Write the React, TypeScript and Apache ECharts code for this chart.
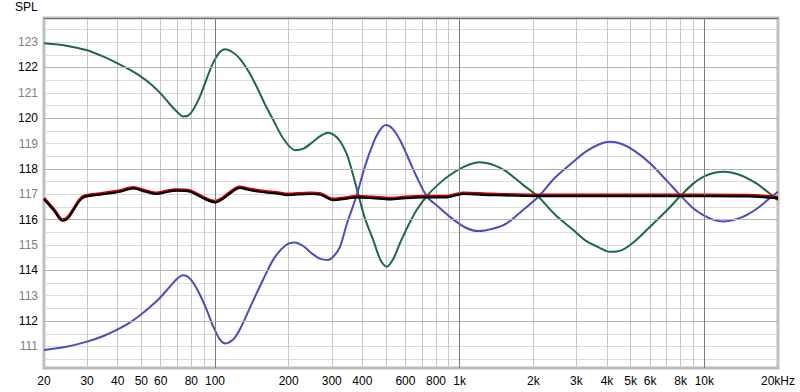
import React, { useEffect, useRef } from 'react';
import * as echarts from 'echarts';

// Frequency axis grid / labels
const xGridValues = [
  20, 30, 40, 50, 60, 70, 80, 90,
  100, 200, 300, 400, 500, 600, 700, 800, 900,
  1000, 2000, 3000, 4000, 5000, 6000, 7000, 8000, 9000,
  10000, 20000,
];
const xLabelValues = [20, 30, 40, 50, 60, 80, 100, 200, 300, 400, 600, 800, 1000, 2000, 3000, 4000, 5000, 6000, 8000, 10000, 20000];
const decadeLines = [100, 1000, 10000];

// SPL axis grid / labels
const yHalfLines = [110.5, 111, 111.5, 112, 112.5, 113, 113.5, 114, 114.5, 115, 115.5, 116, 116.5, 117, 117.5, 118, 118.5, 119, 119.5, 120, 120.5, 121, 121.5, 122, 122.5, 123, 123.5];
const yLabelValues = [111, 112, 113, 114, 115, 116, 117, 118, 119, 120, 121, 122, 123];
const yEvenLines = [112, 114, 116, 118, 120, 122];

// Green curve
const greenFreq = [20, 25, 30, 35, 40, 45, 50, 55, 60, 65, 70, 74, 78, 82, 87, 93, 98, 104, 110, 118, 126, 137, 148, 160, 173, 190, 212, 230, 250, 270, 289, 305, 324, 345, 362, 385, 410, 443, 475, 503, 535, 570, 615, 667, 737, 820, 913, 1050, 1210, 1380, 1556, 1800, 2096, 2450, 2913, 3300, 3747, 4100, 4600, 5200, 5996, 7000, 8004, 9000, 9902, 11000, 12000, 13000, 14000, 15000, 16500, 18000, 20000];
const greenSpl = [122.95, 122.85, 122.68, 122.43, 122.16, 121.9, 121.63, 121.32, 120.97, 120.58, 120.25, 120.07, 120.11, 120.38, 120.88, 121.62, 122.16, 122.58, 122.72, 122.6, 122.36, 121.85, 121.24, 120.55, 119.93, 119.2, 118.74, 118.8, 119.05, 119.3, 119.43, 119.35, 119.1, 118.6, 117.96, 117.0, 116.05, 115.2, 114.4, 114.14, 114.45, 115.07, 115.75, 116.38, 116.95, 117.4, 117.76, 118.1, 118.26, 118.15, 117.89, 117.4, 116.9, 116.2, 115.59, 115.15, 114.88, 114.73, 114.8, 115.15, 115.72, 116.35, 116.94, 117.42, 117.69, 117.85, 117.89, 117.85, 117.76, 117.63, 117.4, 117.12, 116.77];

// Blue curve
const blueFreq = [20, 25, 30, 35, 40, 45, 50, 55, 60, 65, 70, 74, 78, 82, 87, 93, 98, 104, 110, 118, 126, 140, 157, 175, 195, 212, 230, 250, 270, 289, 305, 324, 345, 379, 410, 443, 470, 499, 530, 570, 615, 667, 737, 820, 913, 1050, 1191, 1380, 1556, 1800, 2096, 2450, 2913, 3300, 3747, 4100, 4600, 5200, 5996, 7000, 8004, 9000, 9902, 11000, 12000, 13000, 14000, 15000, 16500, 18000, 20000];
const blueSpl = [110.86, 111.0, 111.19, 111.41, 111.67, 111.95, 112.27, 112.6, 112.95, 113.33, 113.67, 113.81, 113.73, 113.47, 113.02, 112.38, 111.82, 111.32, 111.12, 111.25, 111.65, 112.6, 113.62, 114.5, 115.0, 115.1, 114.95, 114.65, 114.45, 114.41, 114.55, 114.93, 115.8, 116.95, 118.1, 119.01, 119.5, 119.73, 119.6, 119.14, 118.45, 117.69, 116.9, 116.5, 116.11, 115.7, 115.55, 115.65, 115.85, 116.35, 116.9, 117.65, 118.28, 118.7, 118.98, 119.07, 118.98, 118.7, 118.22, 117.55, 116.94, 116.45, 116.18, 115.98, 115.93, 115.97, 116.07, 116.2, 116.45, 116.75, 117.1];

// Black curve
const blackFreq = [20, 22, 23.8, 25, 26.4, 28, 29.4, 32.8, 36, 40.9, 46.3, 52, 57.8, 63, 69.7, 79, 87.2, 94, 100.3, 107, 115, 126, 138, 152.7, 184, 196, 244, 270, 304, 340, 379, 440, 519, 600, 706, 885, 960, 1035, 1330, 2121, 3747, 6000, 10000, 15000, 20000];
const blackSpl = [116.8, 116.35, 115.96, 116.05, 116.38, 116.75, 116.9, 116.97, 117.02, 117.1, 117.23, 117.1, 117.01, 117.08, 117.14, 117.1, 116.9, 116.75, 116.68, 116.8, 117.03, 117.25, 117.17, 117.1, 117.01, 116.97, 117.01, 116.98, 116.77, 116.82, 116.88, 116.85, 116.8, 116.85, 116.88, 116.88, 116.95, 117.01, 116.97, 116.93, 116.93, 116.93, 116.93, 116.92, 116.84];

// Red curve (just under the black one)
const redFreq = [20, 22, 23.8, 25, 26.4, 28, 29.4, 32.8, 36, 40.9, 46.3, 52, 57.8, 63, 69.7, 79, 87.2, 94, 100.3, 107, 115, 126, 138, 152.7, 184, 196, 244, 270, 304, 340, 379, 440, 519, 600, 706, 885, 960, 1035, 1330, 2121, 3747, 6000, 10000, 15000, 20000];
const redSpl = [116.84, 116.39, 116.0, 116.09, 116.42, 116.79, 116.94, 117.01, 117.06, 117.14, 117.27, 117.14, 117.05, 117.12, 117.18, 117.14, 116.94, 116.79, 116.72, 116.84, 117.07, 117.29, 117.21, 117.14, 117.05, 117.01, 117.05, 117.02, 116.81, 116.86, 116.92, 116.89, 116.84, 116.89, 116.92, 116.92, 116.99, 117.05, 117.01, 116.97, 116.97, 116.97, 116.97, 116.96, 116.88];

const pairs = (xs: number[], ys: number[]) => xs.map((x, i) => [x, ys[i]]);

const fmtFreq = (v: number) => {
  if (v >= 20000) return '20kHz';
  if (v >= 1000) return `${Math.round(v / 1000)}k`;
  return `${Math.round(v)}`;
};

export default function App() {
  const ref = useRef<HTMLDivElement>(null);
  useEffect(() => {
    if (!ref.current) return;
    const chart = echarts.init(ref.current, null, { renderer: 'svg' });
    const font = 'Arial, "Liberation Sans", sans-serif';
    chart.setOption({
      animation: false,
      backgroundColor: '#ffffff',
      title: {
        text: 'SPL',
        left: 15,
        top: 1,
        padding: 0,
        textStyle: { fontSize: 12, fontWeight: 'normal', color: '#000', fontFamily: font },
      },
      grid: {
        left: 44,
        top: 18,
        right: 22,
        bottom: 24,
        show: true,
        borderColor: '#bcbcbc',
        borderWidth: 3,
        backgroundColor: '#ffffff',
      },
      xAxis: {
        type: 'log',
        logBase: 10,
        min: 20,
        max: 20000,
        axisLine: { show: false },
        axisTick: { show: false, customValues: xGridValues },
        splitLine: { show: true, lineStyle: { color: '#c6c6c6', width: 1 } },
        minorSplitLine: { show: false },
        axisLabel: {
          customValues: xLabelValues,
          formatter: (v: number) => fmtFreq(v),
          color: '#000',
          fontSize: 12,
          fontFamily: font,
          margin: 7,
          showMinLabel: true,
          showMaxLabel: true,
          hideOverlap: false,
        },
      },
      yAxis: {
        type: 'value',
        min: 110.15,
        max: 123.95,
        axisLine: { show: false },
        axisTick: { show: false, customValues: yHalfLines },
        splitLine: { show: true, lineStyle: { color: '#dcdcdc', width: 1 } },
        axisLabel: {
          customValues: yLabelValues,
          margin: 6,
          formatter: (v: number) => (Math.round(v) % 2 === 0 ? `{e|${Math.round(v)}}` : `{o|${Math.round(v)}}`),
          rich: {
            e: { color: '#000000', fontSize: 12, fontFamily: font },
            o: { color: '#808080', fontSize: 12, fontFamily: font },
          },
        },
      },
      series: [
        {
          type: 'line',
          name: 'grid',
          data: [],
          z: 1,
          silent: true,
          markLine: {
            silent: true,
            symbol: 'none',
            label: { show: false },
            animation: false,
            data: [
              ...yEvenLines.map((v) => ({ yAxis: v, lineStyle: { color: '#b4b4b4', width: 1, type: 'solid' } })),
              ...decadeLines.map((v) => ({ xAxis: v, lineStyle: { color: '#7c7c7c', width: 1, type: 'solid' } })),
              { yAxis: 123.95, lineStyle: { color: '#6e6e6e', width: 1, type: 'solid' } },
            ],
          },
        },
        {
          type: 'line',
          name: 'green',
          data: pairs(greenFreq, greenSpl),
          smooth: 0.3,
          showSymbol: false,
          z: 3,
          lineStyle: { color: '#1c6b42', width: 2 },
        },
        {
          type: 'line',
          name: 'blue',
          data: pairs(blueFreq, blueSpl),
          smooth: 0.3,
          showSymbol: false,
          z: 3,
          lineStyle: { color: '#4b4bc6', width: 2 },
        },
        {
          type: 'line',
          name: 'red',
          data: pairs(redFreq, redSpl),
          smooth: 0.3,
          showSymbol: false,
          z: 4,
          lineStyle: { color: '#c40000', width: 3 },
        },
        {
          type: 'line',
          name: 'black',
          data: pairs(blackFreq, blackSpl),
          smooth: 0.3,
          showSymbol: false,
          z: 5,
          lineStyle: { color: '#000000', width: 2.2 },
        },
      ],
    });
    return () => chart.dispose();
  }, []);
  return <div ref={ref} style={{ position: 'absolute', left: 0, top: 0, width: 800, height: 392 }} />;
}
